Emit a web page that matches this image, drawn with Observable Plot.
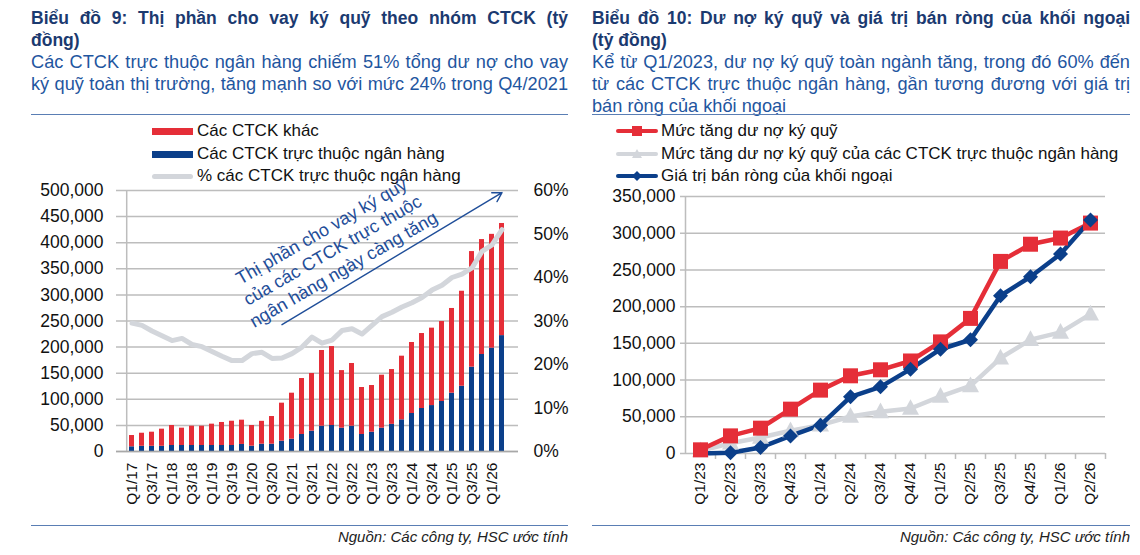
<!DOCTYPE html>
<html><head><meta charset="utf-8">
<script src="https://cdn.jsdelivr.net/npm/d3@7"></script>
<script src="https://cdn.jsdelivr.net/npm/@observablehq/plot@0.6"></script>
<style>
body{margin:0;background:#fff;font-family:"Liberation Sans",Arial,sans-serif;}
#wrap{position:relative;width:1140px;height:555px;overflow:hidden;background:#fff;}
.hdr{position:absolute;top:7px;line-height:22px;}
.t{font-weight:bold;font-size:17.5px;color:#1B3A70;}
.s{font-size:18.2px;color:#1F56A0;}
.j{text-align:justify;text-align-last:justify;}
.sep{position:absolute;height:0;border-top:1.5px solid #5A7EB4;}
.src{position:absolute;font-style:italic;font-size:15px;line-height:18px;color:#222;text-align:right;}
.leg{position:absolute;font-size:17px;color:#111;}
.leg .row{position:relative;height:22.5px;line-height:22px;}
.leg .sw{position:absolute;left:0;}
.leg .tx{position:absolute;left:45px;top:0;white-space:nowrap;}
.chart{position:absolute;top:180px;}
</style></head>
<body><div id="wrap">
<div class="hdr" style="left:31px;width:537px">
  <div class="t j">Biểu đồ 9: Thị phần cho vay ký quỹ theo nhóm CTCK (tỷ</div>
  <div class="t">đồng)</div>
  <div class="s j">Các CTCK trực thuộc ngân hàng chiếm 51% tổng dư nợ cho vay</div>
  <div class="s j">ký quỹ toàn thị trường, tăng mạnh so với mức 24% trong Q4/2021</div>
</div>
<div class="hdr" style="left:592px;width:538px">
  <div class="t j">Biểu đồ 10: Dư nợ ký quỹ và giá trị bán ròng của khối ngoại</div>
  <div class="t">(tỷ đồng)</div>
  <div class="s j">Kể từ Q1/2023, dư nợ ký quỹ toàn ngành tăng, trong đó 60% đến</div>
  <div class="s j">từ các CTCK trực thuộc ngân hàng, gần tương đương với giá trị</div>
  <div class="s">bán ròng của khối ngoại</div>
</div>
<div class="sep" style="left:31px;width:537px;top:114px"></div>
<div class="sep" style="left:592px;width:538px;top:114px"></div>
<div class="sep" style="left:31px;width:537px;top:525px"></div>
<div class="sep" style="left:592px;width:538px;top:525px"></div>
<div class="src" style="left:31px;width:537px;top:528px">Nguồn: Các công ty, HSC ước tính</div>
<div class="src" style="left:592px;width:538px;top:528px">Nguồn: Các công ty, HSC ước tính</div>

<div class="leg" id="legL" style="left:152px;top:120px"></div>
<div class="leg" id="legR" style="left:616px;top:120px"></div>

<div class="chart" id="c1" style="left:0px"></div>
<div class="chart" id="c2" style="left:580px"></div>
</div>
<script>
// ---------- Data: chart 9 ----------
const quarters = ["Q1/17","Q2/17","Q3/17","Q4/17","Q1/18","Q2/18","Q3/18","Q4/18","Q1/19","Q2/19","Q3/19","Q4/19","Q1/20","Q2/20","Q3/20","Q4/20","Q1/21","Q2/21","Q3/21","Q4/21","Q1/22","Q2/22","Q3/22","Q4/22","Q1/23","Q2/23","Q3/23","Q4/23","Q1/24","Q2/24","Q3/24","Q4/24","Q1/25","Q2/25","Q3/25","Q4/25","Q1/26","Q2/26"];
const bankMargin = [9000,10000,10000,10000,11500,11500,11500,11500,11500,11500,11500,13500,10200,14000,14000,19800,23600,32600,39000,48500,49800,44700,48500,32600,37000,44700,52000,60700,72800,82400,88000,95800,111700,125000,161600,185800,198000,222000];
const otherMargin = [21600,25000,27000,32800,38300,33200,37000,37000,40900,44100,46500,46500,39600,43800,53000,72800,88100,107200,110400,145000,151200,110300,120100,90000,89400,101500,105000,121900,136000,143600,148300,153200,162300,182000,221400,220200,218000,214800];
const bankShare = [29.5,29.0,27.7,26.6,25.5,26.0,24.6,24.1,23.0,21.9,20.9,20.9,22.5,22.8,21.4,21.5,22.5,24.0,26.3,24.9,25.6,27.8,28.2,27.0,29.0,31.0,32.0,33.2,34.2,35.4,37.1,38.2,40.0,40.8,42.2,46.0,47.5,51.0];
const leftTicks = [0,50000,100000,150000,200000,250000,300000,350000,400000,450000,500000];
const pctTicks = [0,10,20,30,40,50,60];
const xLabels9 = quarters.filter((d,i)=>i%2===0);
const annoLines = ["Thị phần cho vay ký quỹ","của các CTCK trực thuộc","ngân hàng ngày càng tăng"];
const legend9 = ["Các CTCK khác","Các CTCK trực thuộc ngân hàng","% các CTCK trực thuộc ngân hàng"];

// ---------- Data: chart 10 ----------
const quarters10 = ["Q1/23","Q2/23","Q3/23","Q4/23","Q1/24","Q2/24","Q3/24","Q4/24","Q1/25","Q2/25","Q3/25","Q4/25","Q1/26","Q2/26"];
const marginIncrease = [5000,24000,34500,60400,86300,105800,114000,126000,152000,184000,261600,285000,293400,313800];
const bankMarginIncrease = [3600,14000,21800,30900,38600,50400,56800,61300,77700,92200,130000,155000,164900,189900];
const foreignNetSell = [0,1000,8200,24000,38600,77200,90800,114900,142000,154900,214800,240700,271600,317900];
const rightTicks = [0,50000,100000,150000,200000,250000,300000,350000];
const legend10 = ["Mức tăng dư nợ ký quỹ","Mức tăng dư nợ ký quỹ của các CTCK trực thuộc ngân hàng","Giá trị bán ròng của khối ngoại"];

const RED = "#E52E38", NAVY = "#0B3F8A", GRAY = "#D3D6DB", GRID = "#BDBDBD", ANNO = "#1F4E99";
const FONT = "'Liberation Sans', Arial, sans-serif";

// ---------- Chart 9 ----------
const L = quarters.map((q,i)=>({q, bank: bankMargin[i], other: otherMargin[i], pct: bankShare[i]}));
const W1=580, H1=335, mL1=116, mR1=62, mT1=10, mB1=64, Y1MAX=500000, PMAX=60;
const step1 = (W1-mL1-mR1)/quarters.length;
const c1 = Plot.plot({
  width:W1, height:H1, marginLeft:mL1, marginRight:mR1, marginTop:mT1, marginBottom:mB1,
  style:{fontFamily:FONT, fontSize:"17px", color:"#111", background:"transparent", overflow:"visible"},
  x:{domain:quarters, type:"band", paddingInner:0.48, paddingOuter:0.24},
  y:{domain:[0,Y1MAX]},
  marks:[
    Plot.ruleY(leftTicks, {stroke:GRID, strokeWidth:1.5}),
    Plot.ruleX([quarters[0]], {x:d=>d, dx:-step1/2, stroke:GRID, strokeWidth:1.5}),
    Plot.barY(L, {x:"q", y1:0, y2:"bank", fill:NAVY}),
    Plot.barY(L, {x:"q", y1:"bank", y2:d=>d.bank+d.other, fill:RED}),
    Plot.line(L, {x:"q", y:d=>d.pct/PMAX*Y1MAX, stroke:GRAY, strokeWidth:5}),
    Plot.ruleY([0], {stroke:"#A8A8A8", strokeWidth:1.5}),
    Plot.arrow([{x1:"Q4/20", y1:243000, x2:"Q2/26", y2:496000}], {x1:"x1", y1:"y1", x2:"x2", y2:"y2", stroke:ANNO, strokeWidth:1.4, headLength:11}),
    Plot.text([{q:"Q1/22", v:387000, t:annoLines.join("\n")}], {x:"q", y:"v", text:"t", rotate:-30, fontSize:18, lineHeight:1.22, fill:ANNO}),
    Plot.axisY(leftTicks, {anchor:"left", tickSize:0, tickPadding:13, tickFormat:d3.format(","), fontSize:17.5, label:null}),
    Plot.axisY(pctTicks.map(p=>p/PMAX*Y1MAX), {anchor:"right", tickSize:0, tickPadding:15, tickFormat:d=>Math.round(d/Y1MAX*PMAX)+"%", fontSize:17.5, label:null}),
    Plot.axisX(xLabels9, {anchor:"bottom", tickRotate:-90, tickSize:0, tickPadding:11, fontSize:15.5, label:null})
  ]
});
document.getElementById("c1").appendChild(c1);

// ---------- Chart 10 ----------
const R = quarters10.map((q,i)=>({q, total: marginIncrease[i], bank: bankMarginIncrease[i], foreign: foreignNetSell[i]}));
const W2=560, H2=335, mL2=105, mR2=35, mT2=16, mB2=62;
const step2 = (W2-mL2-mR2)/quarters10.length;
const sqSym = {draw(ctx, size){const r=Math.sqrt(size/Math.PI); ctx.moveTo(-r,-r); ctx.lineTo(r,-r); ctx.lineTo(r,r); ctx.lineTo(-r,r); ctx.closePath();}};
const triSym = {draw(ctx, size){const r=Math.sqrt(size/Math.PI); ctx.moveTo(0,-r*1.1); ctx.lineTo(r,r*0.75); ctx.lineTo(-r,r*0.75); ctx.closePath();}};
const diaSym = {draw(ctx, size){const r=Math.sqrt(size/Math.PI); ctx.moveTo(0,-r); ctx.lineTo(r,0); ctx.lineTo(0,r); ctx.lineTo(-r,0); ctx.closePath();}};
const c2 = Plot.plot({
  width:W2, height:H2, marginLeft:mL2, marginRight:mR2, marginTop:mT2, marginBottom:mB2,
  style:{fontFamily:FONT, fontSize:"17px", color:"#111", background:"transparent", overflow:"visible"},
  x:{domain:quarters10, type:"point", padding:0.5},
  y:{domain:[0,350000]},
  marks:[
    Plot.ruleY(rightTicks, {stroke:GRID, strokeWidth:1.5, insetLeft:-5}),
    Plot.ruleX([quarters10[0]], {x:d=>d, dx:-step2/2, stroke:GRID, strokeWidth:1.5}),
    Plot.ruleX(quarters10, {x:d=>d, y1:0, y2:0, dx:step2/2, insetBottom:-6, stroke:GRID, strokeWidth:1.5}),
    Plot.line(R, {x:"q", y:"bank", stroke:GRAY, strokeWidth:4.5}),
    Plot.line(R, {x:"q", y:"total", stroke:RED, strokeWidth:4.5}),
    Plot.line(R, {x:"q", y:"foreign", stroke:NAVY, strokeWidth:4.5}),
    Plot.dot(R, {x:"q", y:"bank", symbol:triSym, r:8.5, fill:GRAY}),
    Plot.dot(R, {x:"q", y:"total", symbol:sqSym, r:7.5, fill:RED}),
    Plot.dot(R.filter(d=>d.foreign>0), {x:"q", y:"foreign", symbol:diaSym, r:7.5, fill:NAVY}),
    Plot.axisY(rightTicks, {anchor:"left", tickSize:0, tickPadding:10, tickFormat:d3.format(","), fontSize:17.5, label:null}),
    Plot.axisX(quarters10, {anchor:"bottom", tickRotate:-90, tickSize:0, tickPadding:9, fontSize:15.5, label:null})
  ]
});
document.getElementById("c2").appendChild(c2);

// ---------- Legends ----------
const legL = document.getElementById("legL");
const swL = [
  `<div class="sw" style="top:8px;width:41px;height:7px;background:${RED}"></div>`,
  `<div class="sw" style="top:8px;width:41px;height:7px;background:${NAVY}"></div>`,
  `<div class="sw" style="top:9px;width:41px;height:5px;border-radius:3px;background:${GRAY}"></div>`
];
legL.innerHTML = legend9.map((t,i)=>`<div class="row">${swL[i]}<div class="tx">${t}</div></div>`).join("");
const legR = document.getElementById("legR");
const mk = [
  `<rect x="16" y="7" width="10" height="10" fill="${RED}"/>`,
  `<path d="M21,7 L26,16 L16,16 Z" fill="${GRAY}"/>`,
  `<path d="M21,7 L26,12 L21,17 L16,12 Z" fill="${NAVY}"/>`
];
const colR = [RED, GRAY, NAVY];
legR.innerHTML = legend10.map((t,i)=>`<div class="row"><svg class="sw" width="42" height="24" style="top:-1px"><line x1="2" x2="40" y1="12" y2="12" stroke="${colR[i]}" stroke-width="4" stroke-linecap="round"/>${mk[i]}</svg><div class="tx">${t}</div></div>`).join("");
</script>
</body></html>
